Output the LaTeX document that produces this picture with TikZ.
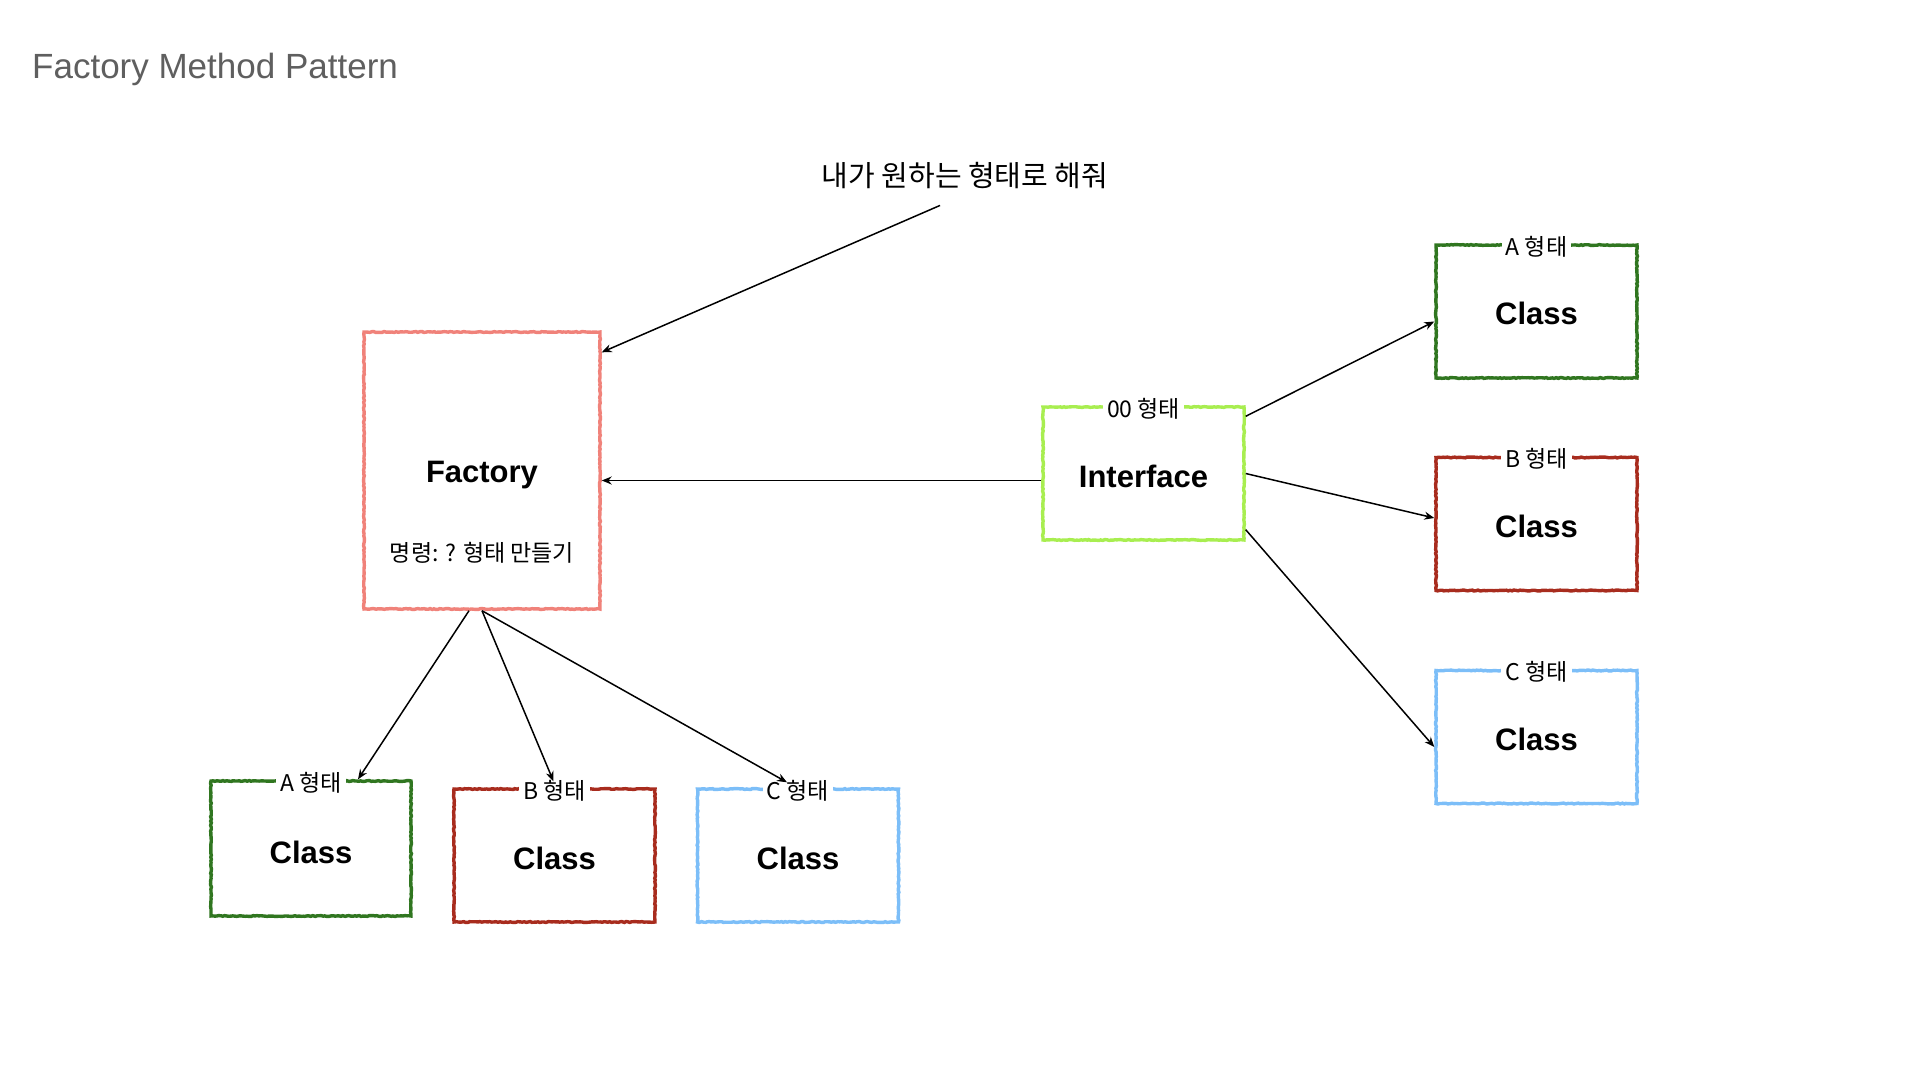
\documentclass[tikz,border=0pt]{standalone}
\usepackage{fontspec}
\setmainfont{Liberation Sans}
\newfontfamily\kr{Noto Sans CJK KR}
\usetikzlibrary{arrows.meta,calc,decorations.pathmorphing}
\definecolor{cfactory}{RGB}{240,130,122}
\definecolor{ciface}{RGB}{168,238,80}
\definecolor{cgreen}{RGB}{48,118,32}
\definecolor{cred}{RGB}{168,44,30}
\definecolor{cblue}{RGB}{124,190,248}
\definecolor{ctitle}{RGB}{95,95,95}
\pgfmathsetseed{7}
\tikzset{
  box/.style={draw=#1, line width=3.4pt, rectangle, inner sep=0pt,
    decorate, decoration={random steps, segment length=2pt, amplitude=0.45pt}},
  boxlabel/.style={fill=white, inner xsep=4pt, inner ysep=1pt, yshift=-3pt, font=\kr\fontsize{23}{26}\selectfont},
  bigtext/.style={font=\bfseries\fontsize{31}{37}\selectfont},
  conn/.style={line width=1.5pt, -{Stealth[length=10pt,width=8pt]}},
}
\begin{document}
\begin{tikzpicture}[x=1pt,y=-1pt]
\useasboundingbox[fill=white] (0,0) rectangle (1920,1080);

% title
\node[anchor=west, text=ctitle, font=\fontsize{35}{42}\selectfont, inner sep=0pt] (title) at (32,69) {Factory Method Pattern};

% note
\node[font=\kr\fontsize{29}{34}\selectfont, inner sep=0pt] (note) at (965,176) {내가 원하는 형태로 해줘};

% factory
\node[box=cfactory, minimum width=236pt, minimum height=277pt] (factory) at (482,470.5) {};
\node[bigtext] (factoryt) at (482,475) {Factory};
\node[font=\kr\fontsize{23}{26}\selectfont] (factorys) at (482,553) {명령: ? 형태 만들기};

% interface
\node[box=ciface, minimum width=201pt, minimum height=133pt] (iface) at (1143.5,473.5) {};
\node[boxlabel] (ifacel) at (iface.north) {00 형태};
\node[bigtext] (ifacet) at (1143.5,476) {Interface};

% right column
\node[box=cgreen, minimum width=201pt, minimum height=133pt] (rA) at (1536.5,311.5) {};
\node[boxlabel] (rAl) at (rA.north) {A 형태};
\node[bigtext] (rAt) at (1536.5,313) {Class};

\node[box=cred, minimum width=201pt, minimum height=133pt] (rB) at (1536.5,524) {};
\node[boxlabel] (rBl) at (rB.north) {B 형태};
\node[bigtext] (rBt) at (1536.5,526) {Class};

\node[box=cblue, minimum width=201pt, minimum height=133pt] (rC) at (1536.5,737) {};
\node[boxlabel] (rCl) at (rC.north) {C 형태};
\node[bigtext] (rCt) at (1536.5,739) {Class};

% bottom row
\node[box=cgreen, minimum width=200pt, minimum height=135pt] (bA) at (311,848.5) {};
\node[boxlabel] (bAl) at (bA.north) {A 형태};
\node[bigtext] (bAt) at (311,852) {Class};

\node[box=cred, minimum width=201pt, minimum height=133pt] (bB) at (554.5,855.5) {};
\node[boxlabel] (bBl) at (bB.north) {B 형태};
\node[bigtext] (bBt) at (554.5,858) {Class};

\node[box=cblue, minimum width=201pt, minimum height=133pt] (bC) at (798,855.5) {};
\node[boxlabel] (bCl) at (bC.north) {C 형태};
\node[bigtext] (bCt) at (798,858) {Class};

% connectors
\draw[conn] ($(note.south)+(-25,16)$) -- ($(factory.north east)+(0,22)$);
\draw[conn] ($(iface.west)+(0,7)$) -- ($(factory.east)+(0,10)$);
\draw[conn] ($(iface.north east)+(0,11)$) -- ($(rA.west)+(0,10)$);
\draw[conn] (iface.east) -- ($(rB.west)+(0,-6)$);
\draw[conn] ($(iface.south east)+(0,-12)$) -- ($(rC.west)+(0,10)$);
\draw[conn] ($(factory.south)+(-13,0)$) -- ($(bA.north)+(47,0)$);
\draw[conn] (factory.south) -- ($(bB.north)+(-1,-6)$);
\draw[conn] (factory.south) -- ($(bC.north)+(-11,-5)$);
\end{tikzpicture}
\end{document}
